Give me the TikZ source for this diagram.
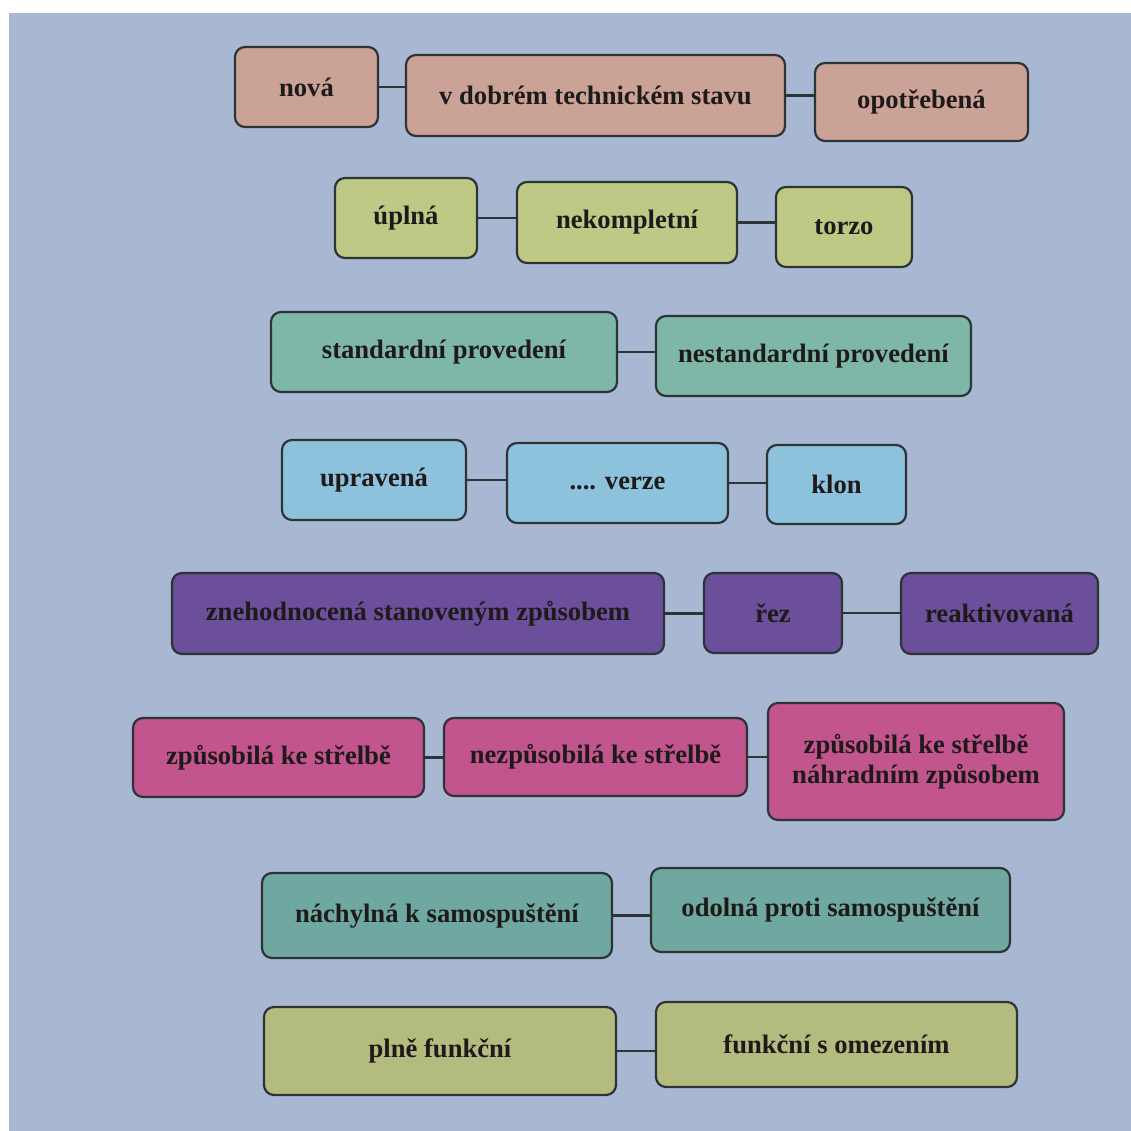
\documentclass[tikz,border=0pt]{standalone}
\usepackage{fontspec}
\setmainfont{Liberation Serif}
\definecolor{pagebg}{HTML}{A9B8D2}
\definecolor{csalmon}{HTML}{CBA296}
\definecolor{cgreen}{HTML}{BDC985}
\definecolor{cgreenb}{HTML}{B3BC7E}
\definecolor{cteal}{HTML}{7EB7A8}
\definecolor{ctealb}{HTML}{6EA8A0}
\definecolor{cblue}{HTML}{8DC2DD}
\definecolor{cpurple}{HTML}{6B4F9B}
\definecolor{cmagenta}{HTML}{C2558D}
\definecolor{cborder}{HTML}{2E3436}
\definecolor{ctext}{HTML}{1E1A1A}
\tikzset{
  bx/.style 2 args={draw=cborder, line width=1.1pt, rounded corners=5pt,
    minimum width=#1*0.5pt, minimum height=#2*0.5pt, inner sep=0pt, outer sep=0pt,
    font=\fontsize{13.3}{15.3}\selectfont\bfseries, text=ctext, align=center},
  link/.style={draw=cborder, line width=1.1pt}
}
\begin{document}
\begin{tikzpicture}[x=0.5pt,y=-0.5pt]
\fill[white] (0,0) rectangle (1131,1131);
\fill[pagebg] (9,13) rectangle (1131,1131);
\useasboundingbox (0,0) rectangle (1131,1131);
% row 1
\node[bx={143}{80}, fill=csalmon] (nova) at (306.5,87) {nová};
\node[bx={379}{81}, fill=csalmon] (dobr) at (595.5,95.5) {v dobrém technickém stavu};
\node[bx={213}{78}, fill=csalmon] (opot) at (921.5,102) {opotřebená};
% row 2
\node[bx={142}{80}, fill=cgreen] (upln) at (406,218) {úplná};
\node[bx={220}{81}, fill=cgreen] (nekom) at (627,222.5) {nekompletní};
\node[bx={136}{80}, fill=cgreen] (torzo) at (844,227) {torzo};
% row 3
\node[bx={346}{80}, fill=cteal] (std) at (444,352) {standardní provedení};
\node[bx={315}{80}, fill=cteal] (nstd) at (813.5,356) {nestandardní provedení};
% row 4
\node[bx={184}{80}, fill=cblue] (upr) at (374,480) {upravená};
\node[bx={221}{80}, fill=cblue] (verze) at (617.5,483) {.... verze};
\node[bx={139}{79}, fill=cblue] (klon) at (836.5,484.5) {klon};
% row 5
\node[bx={492}{81}, fill=cpurple] (zneh) at (418,613.5) {znehodnocená stanoveným způsobem};
\node[bx={138}{80}, fill=cpurple] (rez) at (773,613) {řez};
\node[bx={197}{81}, fill=cpurple] (reak) at (999.5,613.5) {reaktivovaná};
% row 6
\node[bx={291}{79}, fill=cmagenta] (zp) at (278.5,757.5) {způsobilá ke střelbě};
\node[bx={303}{78}, fill=cmagenta] (nezp) at (595.5,757) {nezpůsobilá ke střelbě};
\node[bx={296}{117}, fill=cmagenta] (zpn) at (916,761.5) {způsobilá ke střelbě\\náhradním způsobem};
% row 7
\node[bx={350}{85}, fill=ctealb] (nach) at (437,915.5) {náchylná k samospuštění};
\node[bx={359}{84}, fill=ctealb] (odol) at (830.5,910) {odolná proti samospuštění};
% row 8
\node[bx={352}{88}, fill=cgreenb] (plne) at (440,1051) {plně funkční};
\node[bx={361}{85}, fill=cgreenb] (fomez) at (836.5,1044.5) {funkční s omezením};
% connectors
\draw[link] (nova.east) -- (nova.east -| dobr.west);
\draw[link] (dobr.east) -- (dobr.east -| opot.west);
\draw[link] (upln.east) -- (upln.east -| nekom.west);
\draw[link] (nekom.east) -- (nekom.east -| torzo.west);
\draw[link] (std.east) -- (std.east -| nstd.west);
\draw[link] (upr.east) -- (upr.east -| verze.west);
\draw[link] (verze.east) -- (verze.east -| klon.west);
\draw[link] (zneh.east) -- (zneh.east -| rez.west);
\draw[link] (rez.east) -- (rez.east -| reak.west);
\draw[link] (zp.east) -- (zp.east -| nezp.west);
\draw[link] (nezp.east) -- (nezp.east -| zpn.west);
\draw[link] (nach.east) -- (nach.east -| odol.west);
\draw[link] (plne.east) -- (plne.east -| fomez.west);
\end{tikzpicture}
\end{document}
